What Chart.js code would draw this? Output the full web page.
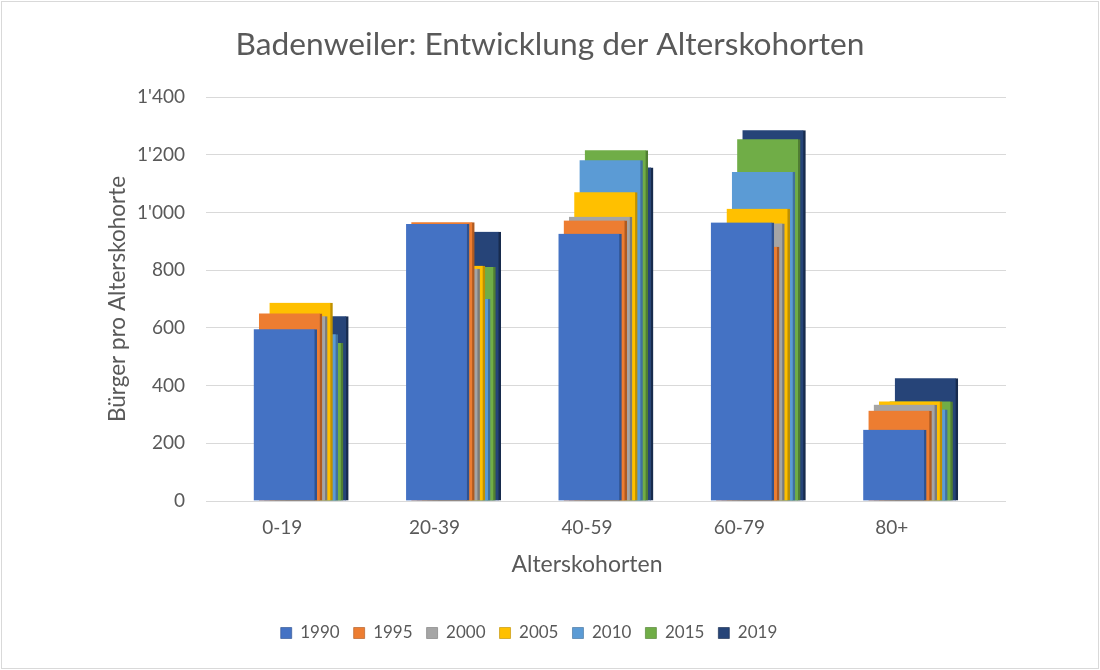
<!DOCTYPE html>
<html>
<head>
<meta charset="utf-8">
<script src="https://cdn.jsdelivr.net/npm/chart.js@4.4.1/dist/chart.umd.min.js"></script>
<style>
html,body{margin:0;padding:0;background:#fff;}
#wrap{width:1100px;height:670px;position:relative;}
</style>
</head>
<body>
<div id="wrap"><canvas id="c" width="1100" height="670"></canvas></div>
<script>
const categories = ['0-19', '20-39', '40-59', '60-79', '80+'];
const years = ['1990', '1995', '2000', '2005', '2010', '2015', '2019'];
const v1990 = [595, 960, 926, 965, 247];
const v1995 = [650, 966, 972, 881, 313];
const v2000 = [640, 805, 985, 962, 334];
const v2005 = [687, 815, 1070, 1013, 345];
const v2010 = [578, 700, 1181, 1140, 317];
const v2015 = [548, 811, 1216, 1254, 345];
const v2019 = [640, 933, 1156, 1285, 425];
const seriesValues = [v1990, v1995, v2000, v2005, v2010, v2015, v2019];
const yTicks = [0, 200, 400, 600, 800, 1000, 1200, 1400];
const xTitle = 'Alterskohorten';

const fillColors = ['#4472C4', '#ED7D31', '#A5A5A5', '#FFC000', '#5B9BD5', '#70AD47', '#264478'];
const sideColors = ['#2F528F', '#AE5A21', '#7B7B7B', '#BF9000', '#41719C', '#507E32', '#172B4D'];

const FONT = 'Lato, "Open Sans", sans-serif';
const TEXT = '#595959';

function fmt(v) {
  if (v >= 1000) return Math.floor(v / 1000) + "'" + String(v % 1000).padStart(3, '0');
  return String(v);
}

const depthShift = {
  id: 'depthShift',
  afterDatasetsUpdate(chart) {
    chart.data.datasets.forEach((ds, i) => {
      const meta = chart.getDatasetMeta(i);
      meta.data.forEach(el => { el.x += 3 + i * 5.27; });
    });
  }
};

const frame = {
  id: 'frame',
  afterLayout(chart) {
    const l = chart.legend;
    if (l) { l.left -= 21; l.right -= 21; }
  },
  afterDraw(chart) {
    const ctx = chart.ctx;
    const xs = chart.scales.x;
    ctx.save();
    ctx.fillStyle = TEXT;
    ctx.font = '23px ' + FONT;
    ctx.textAlign = 'center';
    ctx.textBaseline = 'middle';
    const cx = (xs.getPixelForValue(-0.5) + xs.getPixelForValue(categories.length - 0.5)) / 2;
    ctx.fillText(xTitle, cx, 565);
    ctx.strokeStyle = '#d9d9d9';
    ctx.lineWidth = 1;
    ctx.strokeRect(1.5, 1.5, 1097, 667);
    ctx.restore();
  }
};

const datasets = years.map((y, i) => ({
  label: y,
  data: categories.map((c, k) => ({ x: k, y: seriesValues[i][k] })),
  backgroundColor: fillColors[i],
  borderColor: sideColors[i],
  borderWidth: { top: 0, left: 0, bottom: 0, right: 2.5 },
  borderSkipped: false,
  barThickness: 63,
  grouped: false
}));

new Chart(document.getElementById('c'), {
  type: 'bar',
  data: { datasets },
  plugins: [depthShift, frame],
  options: {
    responsive: false,
    animation: false,
    devicePixelRatio: 1,
    layout: { padding: { left: 94, right: 94, top: 0, bottom: 18.5 } },
    plugins: {
      title: {
        display: true,
        text: 'Badenweiler: Entwicklung der Alterskohorten',
        color: TEXT,
        font: { family: FONT, size: 31.7, weight: 'normal' },
        padding: { top: 26, bottom: 33 }
      },
      legend: {
        display: true,
        position: 'bottom',
        labels: {
          color: TEXT,
          font: { family: FONT, size: 17 },
          boxWidth: 11,
          boxHeight: 11,
          padding: 14
        }
      },
      tooltip: { enabled: false }
    },
    scales: {
      x: {
        type: 'linear',
        offset: false,
        min: -0.5,
        max: 4.75,
        afterBuildTicks: s => { s.ticks = categories.map((c, k) => ({ value: k })); },
        afterFit: s => { s.height = 109.5; },
        ticks: {
          color: TEXT,
          font: { family: FONT, size: 19 },
          padding: 15,
          autoSkip: false,
          maxRotation: 0,
          callback: v => categories[v]
        },
        grid: { display: false, drawTicks: false, offset: false },
        border: { display: false },
        title: { display: false }
      },
      y: {
        min: 0,
        max: 1400,
        afterBuildTicks: s => { s.ticks = yTicks.map(v => ({ value: v })); },
        afterFit: s => { s.width = 112; },
        ticks: {
          color: TEXT,
          font: { family: FONT, size: 19 },
          padding: 21,
          callback: v => fmt(v)
        },
        grid: { color: '#d9d9d9', lineWidth: 1, drawTicks: false },
        border: { display: false },
        title: {
          display: true,
          text: 'Bürger pro Alterskohorte',
          color: TEXT,
          font: { family: FONT, size: 22.5 },
          padding: { top: 10.5, bottom: 7 }
        }
      }
    }
  }
});
</script>
</body>
</html>
